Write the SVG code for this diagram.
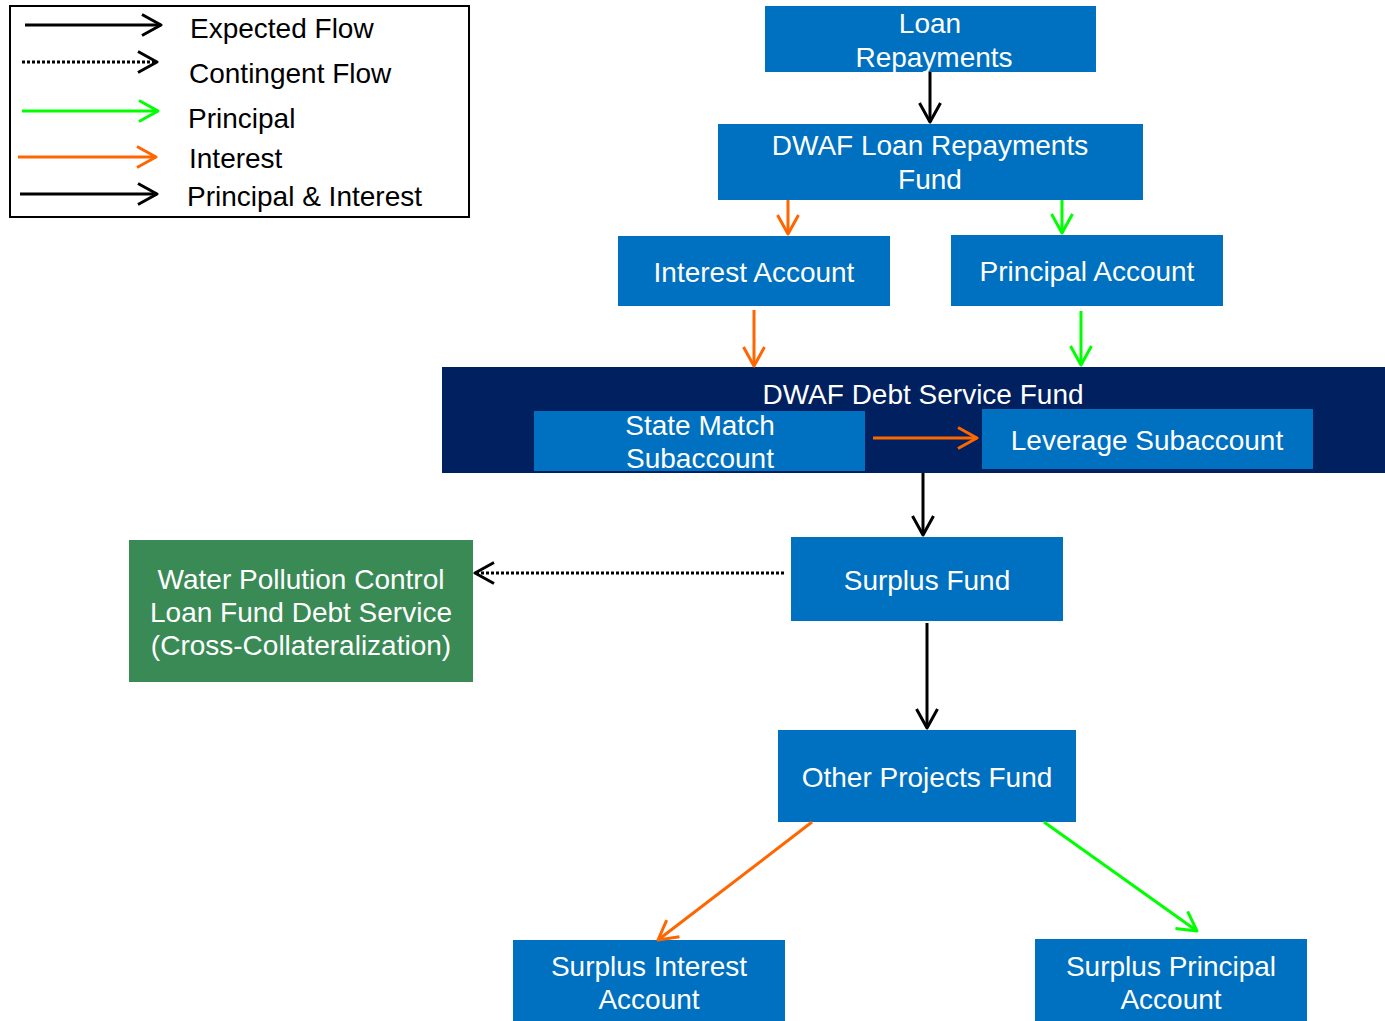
<svg xmlns="http://www.w3.org/2000/svg" width="1385" height="1021" viewBox="0 0 1385 1021">
<style>
text{font-family:"Liberation Sans",Arial,sans-serif;font-size:28px}
.nt{fill:#fff;text-anchor:middle}
.lt{fill:#000}
.blue{fill:#0070C0}
.navy{fill:#002060}
.grn{fill:#3A8A56}
.c{fill:none;stroke-width:3}
.k{stroke:#000}
.o{stroke:#FF6600}
.g{stroke:#00FF00}
.dot{stroke-dasharray:3 2}
</style>
<defs>
<marker id="ak" markerUnits="userSpaceOnUse" viewBox="0 0 22 24" refX="20" refY="12" markerWidth="22" markerHeight="24" orient="auto"><path d="M1,1.5 L20,12 L1,22.5" fill="none" stroke="#000" stroke-width="3" stroke-linejoin="round"/></marker>
<marker id="ao" markerUnits="userSpaceOnUse" viewBox="0 0 22 24" refX="20" refY="12" markerWidth="22" markerHeight="24" orient="auto"><path d="M1,1.5 L20,12 L1,22.5" fill="none" stroke="#FF6600" stroke-width="3" stroke-linejoin="round"/></marker>
<marker id="ag" markerUnits="userSpaceOnUse" viewBox="0 0 22 24" refX="20" refY="12" markerWidth="22" markerHeight="24" orient="auto"><path d="M1,1.5 L20,12 L1,22.5" fill="none" stroke="#00FF00" stroke-width="3" stroke-linejoin="round"/></marker>
</defs>
<rect width="1385" height="1021" fill="#fff"/>

<g id="legend">
<rect x="10" y="6" width="459" height="211" fill="#fff" stroke="#000" stroke-width="2"/>
<line class="c k" x1="25" y1="25" x2="161" y2="25" marker-end="url(#ak)"/>
<line class="c k dot" x1="22" y1="62" x2="157" y2="62" marker-end="url(#ak)"/>
<line class="c g" x1="22" y1="111" x2="158" y2="111" marker-end="url(#ag)"/>
<line class="c o" x1="18" y1="157" x2="156" y2="157" marker-end="url(#ao)"/>
<line class="c k" x1="20" y1="194" x2="157" y2="194" marker-end="url(#ak)"/>
<text class="lt" x="190" y="38">Expected Flow</text>
<text class="lt" x="189" y="83">Contingent Flow</text>
<text class="lt" x="188" y="128">Principal</text>
<text class="lt" x="189" y="168">Interest</text>
<text class="lt" x="187" y="206">Principal &amp; Interest</text>
</g>

<g id="debt-service-fund">
<rect class="navy" x="442" y="367" width="943" height="106"/>
<text class="nt" x="923" y="404">DWAF Debt Service Fund</text>
</g>
<g id="loan-repayments">
<rect class="blue" x="765" y="6" width="331" height="66"/>
<text class="nt" x="930" y="33">Loan</text>
<text class="nt" x="934" y="67">Repayments</text>
</g>
<g id="loan-repayments-fund">
<rect class="blue" x="718" y="124" width="425" height="76"/>
<text class="nt" x="930" y="155">DWAF Loan Repayments</text>
<text class="nt" x="930" y="189">Fund</text>
</g>
<g id="interest-account">
<rect class="blue" x="618" y="236" width="272" height="70"/>
<text class="nt" x="754" y="282">Interest Account</text>
</g>
<g id="principal-account">
<rect class="blue" x="951" y="235" width="272" height="71"/>
<text class="nt" x="1087" y="281">Principal Account</text>
</g>
<g id="state-match">
<rect class="blue" x="534" y="411" width="331" height="60"/>
<text class="nt" x="700" y="435">State Match</text>
<text class="nt" x="700" y="468">Subaccount</text>
</g>
<g id="leverage">
<rect class="blue" x="982" y="409" width="331" height="60"/>
<text class="nt" x="1147" y="450">Leverage Subaccount</text>
</g>
<g id="surplus-fund">
<rect class="blue" x="791" y="537" width="272" height="84"/>
<text class="nt" x="927" y="590">Surplus Fund</text>
</g>
<g id="wpc">
<rect class="grn" x="129" y="540" width="344" height="142"/>
<text class="nt" x="301" y="589">Water Pollution Control</text>
<text class="nt" x="301" y="622">Loan Fund Debt Service</text>
<text class="nt" x="301" y="655">(Cross-Collateralization)</text>
</g>
<g id="other-projects">
<rect class="blue" x="778" y="730" width="298" height="92"/>
<text class="nt" x="927" y="787">Other Projects Fund</text>
</g>
<g id="surplus-interest">
<rect class="blue" x="513" y="940" width="272" height="81"/>
<text class="nt" x="649" y="976">Surplus Interest</text>
<text class="nt" x="649" y="1009">Account</text>
</g>
<g id="surplus-principal">
<rect class="blue" x="1035" y="939" width="272" height="82"/>
<text class="nt" x="1171" y="976">Surplus Principal</text>
<text class="nt" x="1171" y="1009">Account</text>
</g>

<g id="connectors">
<line class="c k" x1="930" y1="72" x2="930" y2="122" marker-end="url(#ak)"/>
<line class="c o" x1="788" y1="200" x2="788" y2="234" marker-end="url(#ao)"/>
<line class="c g" x1="1062" y1="200" x2="1062" y2="233" marker-end="url(#ag)"/>
<line class="c o" x1="754" y1="310" x2="754" y2="366" marker-end="url(#ao)"/>
<line class="c g" x1="1081" y1="311" x2="1081" y2="365" marker-end="url(#ag)"/>
<line class="c o" x1="873" y1="438" x2="977" y2="438" marker-end="url(#ao)"/>
<line class="c k" x1="923" y1="473" x2="923" y2="535" marker-end="url(#ak)"/>
<line class="c k dot" x1="784" y1="573" x2="475" y2="573" marker-end="url(#ak)"/>
<line class="c k" x1="927" y1="623" x2="927" y2="728" marker-end="url(#ak)"/>
<line class="c o" x1="812" y1="822" x2="658" y2="940" marker-end="url(#ao)"/>
<line class="c g" x1="1044" y1="822" x2="1197" y2="931" marker-end="url(#ag)"/>
</g>
</svg>
